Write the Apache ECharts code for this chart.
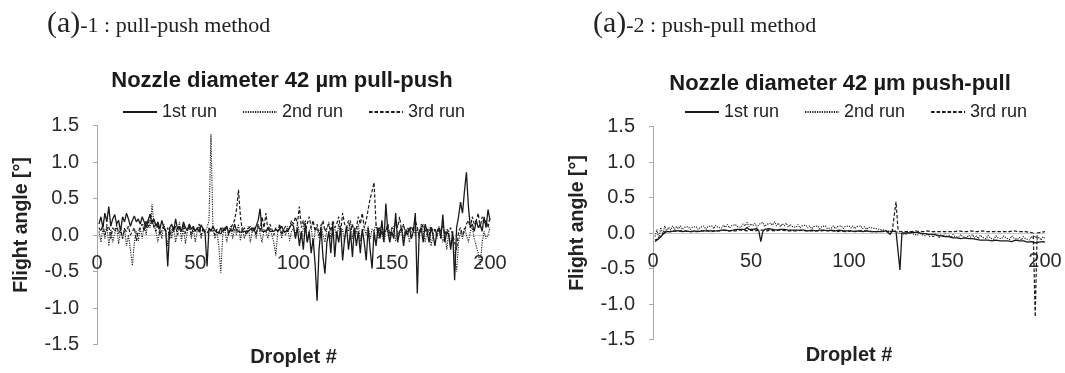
<!DOCTYPE html>
<html>
<head>
<meta charset="utf-8">
<script src="https://cdn.jsdelivr.net/npm/echarts@6/dist/echarts.min.js"></script>
<style>
  html, body { margin: 0; padding: 0; background: #fff; }
  #chart { width: 1065px; height: 373px; }
</style>
</head>
<body>
<div id="chart"></div>
<script>
// flight angle per droplet (droplets 1..200)
const pullPushRun1 = [
  0.15, 0.25, 0.10, 0.30, 0.18, 0.39, 0.12, 0.22, 0.28, 0.15, 0.20, 0.05, 0.25, 0.18, 0.30, 0.22, 0.12, 0.20, 0.26, 0.18,
  0.22, 0.15, 0.25, 0.18, 0.10, 0.20, 0.28, 0.15, 0.22, 0.12, 0.18, 0.08, 0.20, 0.10, 0.05, -0.43, 0.10, 0.15, 0.05, 0.22,
  0.08, 0.12, 0.05, 0.18, 0.10, 0.06, 0.15, 0.08, 0.12, 0.05, 0.10, 0.04, 0.14, 0.08, 0.02, -0.43, 0.10, 0.05, 0.12, 0.06,
  0.08, 0.02, 0.10, 0.05, 0.05, 0.12, 0.02, 0.08, 0.05, 0.15, 0.06, 0.08, 0.04, 0.05, 0.05, 0.05, 0.05, 0.05, 0.10, 0.05,
  0.05, 0.20, 0.36, 0.05, 0.05, 0.05, 0.10, 0.05, 0.05, 0.05, 0.08, 0.05, 0.05, 0.12, 0.05, 0.05, 0.05, 0.10, 0.15, 0.12,
  -0.05, 0.10, -0.15, 0.05, -0.20, 0.15, -0.10, 0.05, -0.25, -0.05, -0.40, -0.90, -0.20, 0.10, -0.30, -0.53, -0.10, 0.05, -0.25, 0.15,
  -0.30, 0.05, -0.10, 0.10, -0.35, -0.05, 0.12, -0.20, 0.05, -0.30, 0.10, -0.15, 0.05, -0.25, 0.08, -0.10, -0.35, 0.10, -0.20, -0.46,
  0.05, -0.15, 0.10, -0.05, 0.20, -0.10, 0.43, 0.05, -0.10, 0.05, -0.05, 0.30, -0.10, 0.05, 0.10, -0.15, 0.05, 0.00, 0.10, -0.05,
  0.05, 0.30, -0.80, 0.05, 0.10, -0.10, 0.15, 0.05, -0.10, 0.10, 0.00, -0.15, 0.05, 0.10, -0.05, 0.28, -0.10, 0.05, 0.00, -0.20,
  0.05, -0.62, 0.10, 0.25, 0.45, 0.30, 0.60, 0.86, 0.40, 0.10, 0.15, 0.05, 0.20, 0.10, 0.15, 0.05, 0.25, 0.10, 0.35, 0.20
];
const pullPushRun2 = [
  0.05, -0.10, 0.10, -0.05, 0.15, -0.15, 0.08, -0.10, 0.02, 0.12, -0.12, 0.05, -0.05, 0.10, -0.15, 0.00, -0.20, -0.42, -0.10, 0.05,
  -0.08, 0.10, -0.05, 0.15, 0.00, 0.20, 0.10, 0.42, 0.15, 0.05, -0.10, 0.10, -0.05, 0.15, 0.05, -0.15, 0.10, -0.05, 0.12, -0.10,
  0.05, 0.18, -0.08, 0.10, -0.12, 0.05, 0.15, -0.05, 0.10, -0.10, 0.05, 0.12, -0.05, 0.08, 0.05, 0.10, 0.20, 1.38, 0.10, -0.05,
  0.05, -0.15, -0.52, 0.00, 0.10, -0.10, 0.05, 0.12, -0.05, 0.08, 0.00, 0.15, -0.08, 0.10, -0.05, 0.05, 0.12, -0.10, 0.05, 0.10,
  -0.05, 0.15, 0.02, -0.10, 0.08, 0.05, -0.05, 0.10, 0.00, -0.10, -0.28, 0.05, 0.10, -0.05, 0.08, 0.00, 0.12, -0.08, 0.05, 0.10,
  0.00, 0.15, 0.05, -0.05, 0.10, 0.20, -0.10, 0.05, 0.12, -0.15, 0.05, 0.10, -0.05, 0.15, 0.00, -0.10, 0.08, 0.18, -0.05, 0.05,
  0.10, -0.05, 0.15, 0.00, 0.08, -0.10, 0.12, 0.05, 0.20, -0.05, 0.10, 0.02, 0.15, -0.08, 0.05, 0.10, 0.00, 0.12, -0.05, 0.08,
  0.05, 0.15, -0.05, 0.10, 0.00, -0.10, 0.05, 0.15, -0.05, 0.08, 0.12, -0.08, 0.05, 0.00, 0.10, -0.05, 0.08, 0.05, -0.10, 0.05,
  0.10, 0.00, 0.08, -0.05, 0.15, 0.05, -0.10, 0.05, 0.10, -0.15, 0.00, 0.08, -0.05, 0.12, 0.05, -0.10, 0.00, -0.20, 0.05, -0.15,
  -0.05, -0.30, -0.50, -0.10, 0.05, -0.05, 0.10, 0.00, -0.10, 0.05, 0.10, -0.05, -0.15, -0.25, -0.42, -0.10, 0.05, -0.05, 0.00, 0.10
];
const pullPushRun3 = [
  0.10, 0.05, 0.15, 0.00, 0.08, 0.12, -0.05, 0.10, 0.05, 0.15, 0.02, 0.10, -0.05, 0.08, 0.05, 0.12, 0.00, 0.05, 0.10, -0.08,
  0.05, 0.10, 0.15, 0.05, 0.20, 0.10, 0.30, 0.22, 0.10, 0.05, 0.15, 0.00, 0.08, 0.12, 0.05, 0.10, -0.05, 0.08, 0.05, 0.12,
  0.00, 0.10, 0.05, 0.15, 0.02, 0.08, 0.12, 0.00, 0.10, 0.05, 0.08, 0.15, 0.00, 0.10, 0.05, 0.02, 0.08, 0.10, 0.05, 0.00,
  0.08, 0.05, 0.00, 0.10, 0.05, 0.12, 0.00, 0.08, 0.15, 0.20, 0.35, 0.62, 0.25, 0.05, 0.10, 0.00, 0.08, 0.12, 0.05, 0.10,
  0.00, 0.15, 0.05, 0.25, 0.10, 0.30, 0.05, 0.15, 0.08, 0.00, 0.10, 0.05, 0.15, 0.00, 0.08, 0.12, 0.05, 0.10, 0.20, 0.15,
  0.25, 0.15, 0.39, 0.10, 0.20, 0.05, 0.15, 0.25, 0.10, 0.20, 0.05, 0.15, 0.00, 0.10, 0.20, 0.05, 0.10, 0.15, 0.05, 0.20,
  0.10, 0.15, 0.25, 0.05, 0.30, 0.15, 0.10, 0.20, 0.05, 0.15, 0.00, 0.10, 0.25, 0.15, 0.30, 0.10, 0.20, 0.35, 0.50, 0.60,
  0.72, 0.15, 0.05, 0.10, 0.00, 0.08, 0.05, 0.15, 0.00, 0.10, 0.05, 0.20, 0.10, 0.25, 0.05, 0.15, 0.00, 0.10, 0.05, 0.12,
  0.05, 0.20, 0.10, 0.00, 0.08, 0.15, 0.05, 0.10, 0.00, 0.12, 0.05, 0.08, 0.00, 0.10, 0.05, 0.15, 0.00, 0.08, 0.05, 0.10,
  0.00, -0.10, -0.20, 0.05, 0.10, 0.00, 0.05, 0.15, 0.20, 0.10, 0.25, 0.15, 0.20, 0.30, 0.10, 0.25, 0.15, 0.20, 0.10, 0.25
];

const pushPullRun1 = [
  -0.12, -0.10, -0.08, -0.05, -0.02, 0.00, 0.02, 0.03, 0.02, 0.03, 0.03, 0.02, 0.03, 0.03, 0.02, 0.03, 0.03, 0.03, 0.02, 0.03,
  0.03, 0.03, 0.02, 0.03, 0.03, 0.03, 0.03, 0.02, 0.03, 0.03, 0.03, 0.04, 0.03, 0.03, 0.04, 0.03, 0.04, 0.04, 0.03, 0.04,
  0.04, 0.04, 0.05, 0.04, 0.05, 0.06, 0.05, 0.08, 0.05, 0.06, 0.05, 0.04, 0.06, 0.03, -0.12, 0.02, 0.05, 0.04, 0.06, 0.05,
  0.05, 0.06, 0.04, 0.05, 0.05, 0.04, 0.05, 0.04, 0.04, 0.05, 0.04, 0.04, 0.04, 0.05, 0.04, 0.04, 0.04, 0.04, 0.03, 0.04,
  0.04, 0.04, 0.03, 0.04, 0.04, 0.03, 0.04, 0.04, 0.03, 0.03, 0.04, 0.03, 0.03, 0.03, 0.04, 0.03, 0.03, 0.03, 0.03, 0.03,
  0.03, 0.03, 0.02, 0.03, 0.03, 0.03, 0.02, 0.02, 0.03, 0.02, 0.02, 0.02, 0.02, 0.01, 0.02, 0.01, 0.02, 0.00, 0.03, 0.01,
  -0.02, 0.03, 0.01, 0.02, 0.00, -0.52, 0.00, 0.01, 0.00, 0.01, 0.00, 0.00, 0.01, 0.00, 0.01, 0.00, -0.01, 0.00, -0.01, -0.02,
  -0.02, -0.03, -0.02, -0.04, -0.03, -0.05, -0.04, -0.05, -0.05, -0.06, -0.05, -0.06, -0.07, -0.06, -0.07, -0.07, -0.08, -0.08, -0.07, -0.08,
  -0.08, -0.09, -0.08, -0.09, -0.09, -0.09, -0.10, -0.09, -0.10, -0.10, -0.10, -0.10, -0.11, -0.10, -0.10, -0.11, -0.11, -0.10, -0.11, -0.11,
  -0.11, -0.10, -0.12, -0.11, -0.10, -0.12, -0.11, -0.12, -0.11, -0.12, -0.13, -0.11, -0.12, -0.10, -0.14, -0.12, -0.13, -0.15, -0.12, -0.13
];
const pushPullRun2 = [
  -0.05, 0.05, -0.08, 0.08, -0.02, 0.10, 0.02, 0.08, 0.04, 0.10, 0.05, 0.09, 0.06, 0.10, 0.05, 0.08, 0.06, 0.09, 0.05, 0.08,
  0.06, 0.09, 0.05, 0.08, 0.06, 0.10, 0.05, 0.09, 0.07, 0.10, 0.06, 0.11, 0.08, 0.10, 0.07, 0.11, 0.08, 0.12, 0.07, 0.10,
  0.08, 0.12, 0.09, 0.11, 0.08, 0.13, 0.10, 0.15, 0.09, 0.13, 0.10, 0.14, 0.08, 0.12, 0.10, 0.15, 0.09, 0.12, 0.10, 0.14,
  0.11, 0.16, 0.10, 0.14, 0.09, 0.13, 0.10, 0.14, 0.08, 0.12, 0.09, 0.11, 0.08, 0.12, 0.07, 0.10, 0.08, 0.11, 0.07, 0.10,
  0.06, 0.09, 0.07, 0.10, 0.06, 0.09, 0.07, 0.10, 0.06, 0.08, 0.07, 0.10, 0.06, 0.09, 0.07, 0.10, 0.06, 0.09, 0.07, 0.10,
  0.07, 0.10, 0.06, 0.09, 0.07, 0.10, 0.06, 0.09, 0.05, 0.08, 0.06, 0.07, 0.05, 0.06, 0.04, 0.05, 0.03, 0.04, 0.02, 0.03,
  0.01, 0.02, 0.00, 0.03, 0.00, 0.02, -0.01, 0.01, -0.02, 0.01, -0.01, 0.02, -0.02, 0.00, -0.03, 0.01, -0.02, 0.00, -0.04, -0.01,
  -0.05, -0.02, -0.06, -0.01, -0.04, -0.07, -0.02, -0.05, -0.01, -0.06, -0.03, -0.07, -0.02, -0.05, -0.03, -0.06, -0.02, -0.05, -0.03, -0.07,
  -0.03, -0.06, -0.02, -0.07, -0.04, -0.08, -0.03, -0.06, -0.04, -0.08, -0.03, -0.07, -0.05, -0.09, -0.04, -0.07, -0.05, -0.08, -0.04, -0.07,
  -0.05, -0.09, -0.04, -0.07, -0.05, -0.09, -0.06, -0.10, -0.05, -0.08, -0.06, -0.10, -0.05, -0.08, -0.04, -0.09, -0.06, -0.10, -0.05, -0.08
];
const pushPullRun3 = [
  -0.10, -0.12, -0.08, -0.05, -0.02, 0.02, 0.03, 0.02, 0.03, 0.02, 0.03, 0.03, 0.02, 0.03, 0.02, 0.03, 0.03, 0.02, 0.03, 0.02,
  0.03, 0.02, 0.03, 0.03, 0.02, 0.03, 0.02, 0.03, 0.03, 0.02, 0.03, 0.03, 0.04, 0.03, 0.03, 0.04, 0.03, 0.03, 0.04, 0.03,
  0.04, 0.03, 0.04, 0.04, 0.03, 0.04, 0.04, 0.03, 0.04, 0.04, 0.04, 0.03, 0.04, 0.04, 0.03, 0.04, 0.04, 0.03, 0.04, 0.04,
  0.04, 0.03, 0.04, 0.04, 0.03, 0.04, 0.04, 0.03, 0.04, 0.03, 0.04, 0.03, 0.04, 0.03, 0.03, 0.04, 0.03, 0.03, 0.04, 0.03,
  0.03, 0.03, 0.04, 0.03, 0.03, 0.03, 0.03, 0.04, 0.03, 0.03, 0.03, 0.03, 0.03, 0.02, 0.03, 0.03, 0.03, 0.02, 0.03, 0.03,
  0.03, 0.02, 0.03, 0.03, 0.02, 0.03, 0.02, 0.03, 0.02, 0.03, 0.02, 0.02, 0.03, 0.02, 0.02, 0.03, 0.02, 0.02, 0.03, 0.02,
  0.03, 0.02, 0.00, 0.44, 0.05, 0.02, 0.03, 0.02, 0.03, 0.02, 0.03, 0.02, 0.02, 0.03, 0.02, 0.02, 0.03, 0.02, 0.02, 0.03,
  0.02, 0.02, 0.03, 0.02, 0.02, 0.02, 0.03, 0.02, 0.02, 0.02, 0.03, 0.02, 0.02, 0.02, 0.02, 0.03, 0.02, 0.02, 0.02, 0.02,
  0.02, 0.03, 0.02, 0.02, 0.02, 0.02, 0.02, 0.03, 0.02, 0.02, 0.02, 0.02, 0.02, 0.02, 0.03, 0.02, 0.02, 0.02, 0.02, 0.02,
  0.02, 0.02, 0.02, 0.03, 0.02, 0.02, 0.02, 0.02, 0.01, 0.02, 0.02, 0.01, 0.02, 0.00, -1.18, 0.00, 0.02, 0.01, 0.02, 0.02
];

const runNames = ['1st run', '2nd run', '3rd run'];
const xTicks = [0, 200, 50];          // min, max, interval
const yTicks = [-1.5, 1.5, 0.5];

const lineColor = '#1a1a1a';
const dashes = ['solid', [1.2, 1.2], [3.5, 2]];
const widths = [1.3, 1.1, 1.2];

// plot boxes (left/right panel), x axis sits on the zero line
const boxes = [
  { left: 97, top: 125.5, width: 393, height: 219 },
  { left: 653, top: 126.5, width: 392, height: 213 }
];

var myChart = echarts.init(document.getElementById('chart'), null, { renderer: 'canvas' });

function toPairs(arr) {
  return arr.map((v, i) => [i + 1, v]);
}

function makeSeries(dataSets, gridIdx) {
  return dataSets.map((d, k) => ({
    name: runNames[k],
    type: 'line',
    xAxisIndex: gridIdx,
    yAxisIndex: gridIdx,
    data: toPairs(d),
    symbol: 'none',
    showSymbol: false,
    animation: false,
    lineStyle: { color: lineColor, width: widths[k], type: dashes[k] },
    itemStyle: { color: lineColor },
    z: 3 - k
  }));
}

const font = '"Liberation Sans", Arial, Helvetica, sans-serif';

function xAxisCfg(gridIdx) {
  return {
    gridIndex: gridIdx,
    type: 'value',
    position: 'bottom',
    offset: -boxes[gridIdx].height / 2,
    min: xTicks[0], max: xTicks[1], interval: xTicks[2],
    splitLine: { show: false },
    axisLine: { show: true, onZero: false, lineStyle: { color: '#c8c8c8', width: 1 } },
    axisTick: { show: false },
    axisLabel: { margin: 18, color: '#2a2a2a', fontSize: 20, fontFamily: font },
    name: 'Droplet #',
    nameLocation: 'middle',
    nameGap: 112,
    nameTextStyle: { color: '#222', fontSize: 20, fontWeight: 'bold', fontFamily: font }
  };
}

function yAxisCfg(gridIdx) {
  return {
    gridIndex: gridIdx,
    type: 'value',
    min: yTicks[0], max: yTicks[1], interval: yTicks[2],
    splitLine: { show: false },
    axisLine: { show: true, onZero: false, lineStyle: { color: '#a8a8a8', width: 1 } },
    axisTick: { show: true, length: 4, lineStyle: { color: '#a8a8a8' } },
    axisLabel: { margin: 18, color: '#2a2a2a', fontSize: 20, fontFamily: font, formatter: v => v.toFixed(1) },
    name: 'Flight angle [°]',
    nameLocation: 'middle',
    nameGap: 65,
    nameTextStyle: { color: '#222', fontSize: 19.5, fontWeight: 'bold', fontFamily: font, padding: [0, 0, 0, 20] }
  };
}

function legendCfg(left) {
  return {
    data: runNames,
    left: left,
    top: 98,
    itemWidth: 34,
    itemHeight: 10,
    itemGap: 25,
    itemStyle: { opacity: 0 },
    textStyle: { color: '#222', fontSize: 18, fontFamily: font }
  };
}

const serif = '"Liberation Serif", "Times New Roman", serif';
const headRich = {
  a: { fontFamily: serif, fontSize: 30, fontWeight: 'normal', color: '#222' },
  b: { fontFamily: serif, fontSize: 22, fontWeight: 'normal', color: '#222', padding: [5, 0, 0, 0] }
};

myChart.setOption({
  animation: false,
  backgroundColor: '#fff',
  title: [
    { text: '{a|(a)}{b|-1 : pull-push method}', left: 42, top: 4, textStyle: { fontWeight: 'normal', rich: headRich } },
    { text: '{a|(a)}{b|-2 : push-pull method}', left: 588, top: 4, textStyle: { fontWeight: 'normal', rich: headRich } },
    { text: 'Nozzle diameter 42 µm pull-push', left: 277, top: 65, textAlign: 'center',
      textStyle: { fontFamily: font, fontSize: 22, fontWeight: 'bold', color: '#1a1a1a' } },
    { text: 'Nozzle diameter 42 µm push-pull', left: 835, top: 68, textAlign: 'center',
      textStyle: { fontFamily: font, fontSize: 22, fontWeight: 'bold', color: '#1a1a1a' } }
  ],
  legend: [legendCfg(117), legendCfg(679)],
  grid: boxes.map(b => Object.assign({ containLabel: false, outerBoundsMode: 'none' }, b)),
  xAxis: [xAxisCfg(0), xAxisCfg(1)],
  yAxis: [yAxisCfg(0), yAxisCfg(1)],
  series: [
    ...makeSeries([pullPushRun1, pullPushRun2, pullPushRun3], 0),
    ...makeSeries([pushPullRun1, pushPullRun2, pushPullRun3], 1)
  ]
});
</script>
</body>
</html>
